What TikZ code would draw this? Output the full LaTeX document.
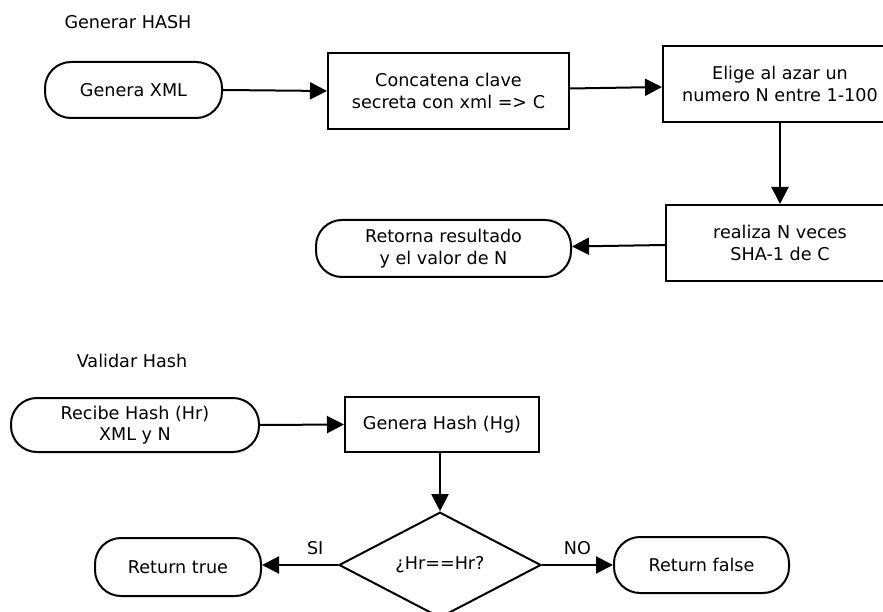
\documentclass[tikz,border=0pt]{standalone}
\usepackage{fontspec}
\setmainfont{DejaVu Sans}
\usetikzlibrary{arrows.meta,shapes.geometric}
\begin{document}
\begin{tikzpicture}[x=1pt,y=-1pt, line width=2pt, font=\fontsize{17.6}{21.5}\selectfont,
  >={Triangle[length=17pt,width=17pt]},
  pill/.style={draw,rounded corners=26pt,align=center,inner sep=0pt},
  box/.style={draw,rectangle,align=center,inner sep=0pt},
  cond/.style={draw,diamond,inner sep=0pt,minimum width=202pt,minimum height=102pt}]
\useasboundingbox (0,0) rectangle (883,612);

\node (title1) at (128,22) {Generar HASH};
\node[pill,minimum width=177pt,minimum height=56pt] (genxml) at (133.5,90) {Genera XML};
\node[box,minimum width=241pt,minimum height=76pt] (concat) at (448.5,91) {Concatena clave\\secreta con xml => C};
\node[box,minimum width=234pt,minimum height=76pt] (elige) at (780,84) {Elige al azar un\\numero N entre 1-100};
\node[box,minimum width=228pt,minimum height=76pt] (realiza) at (780,243) {realiza N veces\\SHA-1 de C};
\node[pill,minimum width=255pt,minimum height=57pt] (retorna) at (443.5,248.5) {Retorna resultado\\y el valor de N};

\draw[->] (genxml.east) -- (concat.west);
\draw[->] ([yshift=2.5pt]concat.east) -- ([yshift=-3pt]elige.west);
\draw[->] (elige.south) -- (realiza.north);
\draw[->] ([yshift=-2pt]realiza.west) -- ([yshift=2pt]retorna.east);

\node (title2) at (132,361) {Validar Hash};
\node[pill,minimum width=248pt,minimum height=54pt] (recibe) at (135,425) {Recibe Hash (Hr)\\XML y N};
\node[box,minimum width=194pt,minimum height=55pt] (genhash) at (442,424.5) {Genera Hash (Hg)};
\node[cond] (igual) at (440,565) {¿Hr==Hr?};
\node[pill,minimum width=166pt,minimum height=58pt] (rtrue) at (178,567) {Return true};
\node[pill,minimum width=175pt,minimum height=56pt] (rfalse) at (701.5,565) {Return false};

\draw[->] (recibe.east) -- (genhash.west);
\draw[->] (genhash.south -| igual.north) -- (igual.north);
\draw[->] (igual.west) -- (igual.west -| rtrue.east) node[pos=0.3,above=6pt] (si) {SI};
\draw[->] (igual.east) -- (rfalse.west) node[pos=0.5,above=6pt] (no) {NO};
\end{tikzpicture}
\end{document}
